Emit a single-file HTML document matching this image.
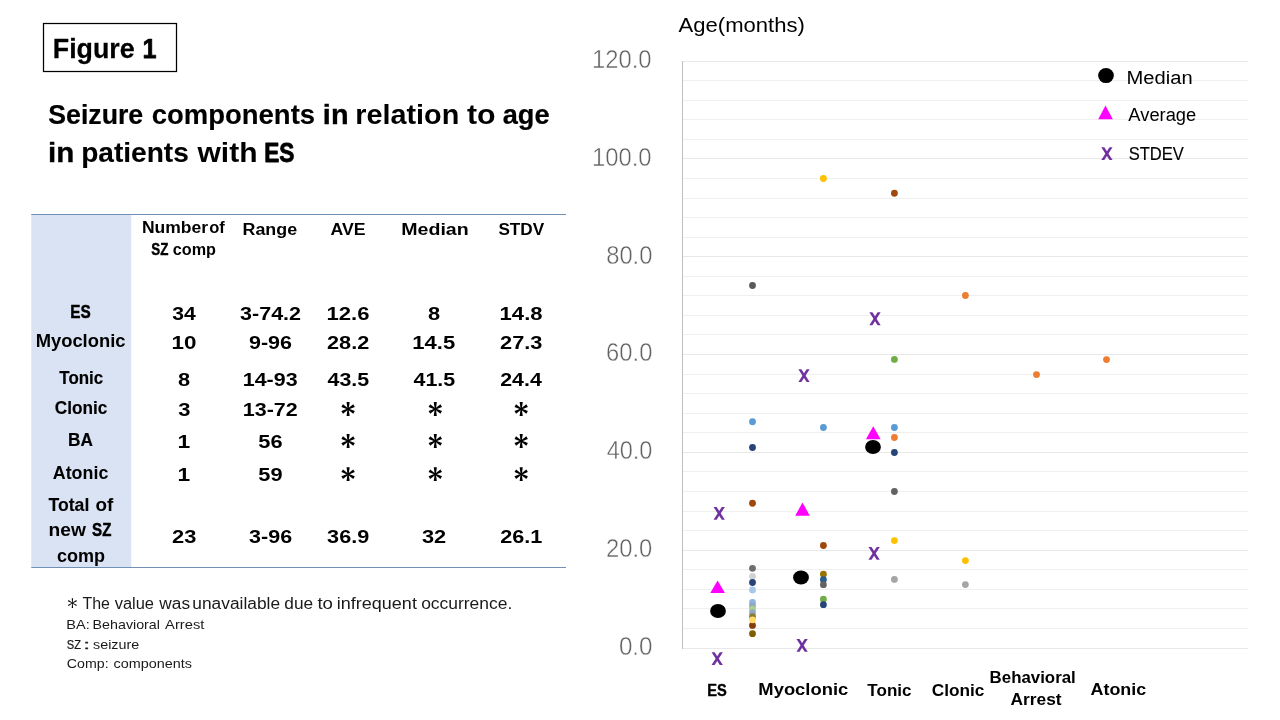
<!DOCTYPE html>
<html><head><meta charset="utf-8"><title>Figure 1</title>
<style>
html,body{margin:0;padding:0;background:#fff;}
body{width:1280px;height:720px;overflow:hidden;font-family:"Liberation Sans",sans-serif;}
svg{display:block;will-change:transform;font-family:"Liberation Sans",sans-serif;}
text{white-space:pre;}
</style></head><body>
<svg width="1280" height="720" viewBox="0 0 1280 720">
<rect x="0" y="0" width="1280" height="720" fill="#ffffff"/>
<rect x="43.5" y="23.5" width="133" height="48" fill="#fff" stroke="#000" stroke-width="1.25"/>
<text x="52.80" y="57.70" textLength="81.80" font-size="28" font-weight="bold" fill="#000" lengthAdjust="spacingAndGlyphs" stroke="#000" stroke-width="0.26" stroke-linejoin="round">Figure</text>
<text x="142.62" y="57.70" textLength="14.03" font-size="28" font-weight="bold" fill="#000" lengthAdjust="spacingAndGlyphs" stroke="#000" stroke-width="0.75" stroke-linejoin="round">1</text>
<text x="48.28" y="123.70" textLength="94.89" font-size="28" font-weight="bold" fill="#000" lengthAdjust="spacingAndGlyphs" stroke="#000" stroke-width="0.23" stroke-linejoin="round">Seizure</text>
<text x="151.68" y="123.70" textLength="163.42" font-size="28" font-weight="bold" fill="#000" lengthAdjust="spacingAndGlyphs" stroke="#000" stroke-width="0.12" stroke-linejoin="round">components</text>
<text x="322.86" y="123.70" textLength="25.67" font-size="28" font-weight="bold" fill="#000" lengthAdjust="spacingAndGlyphs" stroke="#000" stroke-width="0.35" stroke-linejoin="round">in</text>
<text x="355.34" y="123.70" textLength="103.88" font-size="28" font-weight="bold" fill="#000" lengthAdjust="spacingAndGlyphs">relation</text>
<text x="467.02" y="123.70" textLength="28.62" font-size="28" font-weight="bold" fill="#000" lengthAdjust="spacingAndGlyphs">to</text>
<text x="502.74" y="123.70" textLength="46.77" font-size="28" font-weight="bold" fill="#000" lengthAdjust="spacingAndGlyphs" stroke="#000" stroke-width="0.23" stroke-linejoin="round">age</text>
<text x="47.99" y="162.30" textLength="26.26" font-size="28" font-weight="bold" fill="#000" lengthAdjust="spacingAndGlyphs" stroke="#000" stroke-width="0.34" stroke-linejoin="round">in</text>
<text x="81.15" y="162.30" textLength="107.67" font-size="28" font-weight="bold" fill="#000" lengthAdjust="spacingAndGlyphs" stroke="#000" stroke-width="0.09" stroke-linejoin="round">patients</text>
<text x="197.47" y="162.30" textLength="60.00" font-size="28" font-weight="bold" fill="#000" lengthAdjust="spacingAndGlyphs">with</text>
<text x="264.16" y="162.30" textLength="30.21" font-size="28" font-weight="bold" fill="#000" lengthAdjust="spacingAndGlyphs" stroke="#000" stroke-width="0.87" stroke-linejoin="round">ES</text>
<rect x="31.25" y="214.5" width="100" height="353" fill="#DAE3F3"/>
<line x1="31.25" y1="214.5" x2="566" y2="214.5" stroke="#7090B6" stroke-width="1"/>
<line x1="31.25" y1="567.5" x2="566" y2="567.5" stroke="#7090B6" stroke-width="1"/>
<text x="141.96" y="232.60" textLength="66.15" font-size="16.0" font-weight="bold" fill="#000" lengthAdjust="spacingAndGlyphs">Number</text>
<text x="209.22" y="232.60" textLength="15.63" font-size="16.0" font-weight="bold" fill="#000" lengthAdjust="spacingAndGlyphs">of</text>
<text x="151.21" y="254.50" textLength="17.11" font-size="16.0" font-weight="bold" fill="#000" lengthAdjust="spacingAndGlyphs" stroke="#000" stroke-width="0.40" stroke-linejoin="round">SZ</text>
<text x="172.75" y="254.50" textLength="43.17" font-size="16.0" font-weight="bold" fill="#000" lengthAdjust="spacingAndGlyphs">comp</text>
<text x="242.54" y="234.70" textLength="54.62" font-size="16.8" font-weight="bold" fill="#000" lengthAdjust="spacingAndGlyphs">Range</text>
<text x="330.54" y="234.50" textLength="35.06" font-size="16.8" font-weight="bold" fill="#000" lengthAdjust="spacingAndGlyphs">AVE</text>
<text x="401.26" y="234.50" textLength="67.49" font-size="16.8" font-weight="bold" fill="#000" lengthAdjust="spacingAndGlyphs">Median</text>
<text x="498.41" y="234.50" textLength="45.76" font-size="16.8" font-weight="bold" fill="#000" lengthAdjust="spacingAndGlyphs">STDV</text>
<text x="70.36" y="317.60" textLength="20.45" font-size="17.8" font-weight="bold" fill="#000" lengthAdjust="spacingAndGlyphs" stroke="#000" stroke-width="0.44" stroke-linejoin="round">ES</text>
<text x="35.66" y="346.80" textLength="89.81" font-size="17.8" font-weight="bold" fill="#000" lengthAdjust="spacingAndGlyphs">Myoclonic</text>
<text x="59.30" y="383.70" textLength="43.90" font-size="17.8" font-weight="bold" fill="#000" lengthAdjust="spacingAndGlyphs" stroke="#000" stroke-width="0.16" stroke-linejoin="round">Tonic</text>
<text x="54.80" y="413.70" textLength="52.61" font-size="17.8" font-weight="bold" fill="#000" lengthAdjust="spacingAndGlyphs" stroke="#000" stroke-width="0.14" stroke-linejoin="round">Clonic</text>
<text x="68.10" y="445.80" textLength="24.87" font-size="17.8" font-weight="bold" fill="#000" lengthAdjust="spacingAndGlyphs" stroke="#000" stroke-width="0.21" stroke-linejoin="round">BA</text>
<text x="52.79" y="478.90" textLength="55.55" font-size="17.8" font-weight="bold" fill="#000" lengthAdjust="spacingAndGlyphs">Atonic</text>
<text x="48.53" y="510.70" textLength="40.82" font-size="17.8" font-weight="bold" fill="#000" lengthAdjust="spacingAndGlyphs" stroke="#000" stroke-width="0.10" stroke-linejoin="round">Total</text>
<text x="95.51" y="510.70" textLength="17.82" font-size="17.8" font-weight="bold" fill="#000" lengthAdjust="spacingAndGlyphs">of</text>
<text x="48.53" y="536.40" textLength="37.35" font-size="17.8" font-weight="bold" fill="#000" lengthAdjust="spacingAndGlyphs">new</text>
<text x="92.09" y="536.40" textLength="19.28" font-size="17.8" font-weight="bold" fill="#000" lengthAdjust="spacingAndGlyphs" stroke="#000" stroke-width="0.46" stroke-linejoin="round">SZ</text>
<text x="57.03" y="561.50" textLength="48.08" font-size="17.8" font-weight="bold" fill="#000" lengthAdjust="spacingAndGlyphs">comp</text>
<text x="172.17" y="320.40" textLength="23.53" font-size="19.1" font-weight="bold" fill="#000" lengthAdjust="spacingAndGlyphs">34</text>
<text x="240.05" y="320.40" textLength="60.99" font-size="19.1" font-weight="bold" fill="#000" lengthAdjust="spacingAndGlyphs">3-74.2</text>
<text x="326.49" y="320.40" textLength="42.98" font-size="19.1" font-weight="bold" fill="#000" lengthAdjust="spacingAndGlyphs">12.6</text>
<text x="427.99" y="320.40" textLength="12.13" font-size="19.1" font-weight="bold" fill="#000" lengthAdjust="spacingAndGlyphs">8</text>
<text x="499.61" y="320.40" textLength="42.92" font-size="19.1" font-weight="bold" fill="#000" lengthAdjust="spacingAndGlyphs">14.8</text>
<text x="171.43" y="349.30" textLength="24.95" font-size="19.1" font-weight="bold" fill="#000" lengthAdjust="spacingAndGlyphs">10</text>
<text x="248.96" y="349.30" textLength="43.07" font-size="19.1" font-weight="bold" fill="#000" lengthAdjust="spacingAndGlyphs">9-96</text>
<text x="327.02" y="349.30" textLength="42.26" font-size="19.1" font-weight="bold" fill="#000" lengthAdjust="spacingAndGlyphs">28.2</text>
<text x="412.30" y="349.30" textLength="42.84" font-size="19.1" font-weight="bold" fill="#000" lengthAdjust="spacingAndGlyphs">14.5</text>
<text x="500.13" y="349.30" textLength="42.35" font-size="19.1" font-weight="bold" fill="#000" lengthAdjust="spacingAndGlyphs">27.3</text>
<text x="178.14" y="386.30" textLength="12.13" font-size="19.1" font-weight="bold" fill="#000" lengthAdjust="spacingAndGlyphs">8</text>
<text x="242.78" y="386.30" textLength="54.81" font-size="19.1" font-weight="bold" fill="#000" lengthAdjust="spacingAndGlyphs">14-93</text>
<text x="327.54" y="386.30" textLength="41.65" font-size="19.1" font-weight="bold" fill="#000" lengthAdjust="spacingAndGlyphs">43.5</text>
<text x="413.54" y="386.30" textLength="41.65" font-size="19.1" font-weight="bold" fill="#000" lengthAdjust="spacingAndGlyphs">41.5</text>
<text x="500.22" y="386.30" textLength="41.58" font-size="19.1" font-weight="bold" fill="#000" lengthAdjust="spacingAndGlyphs">24.4</text>
<text x="178.26" y="416.10" textLength="12.22" font-size="19.1" font-weight="bold" fill="#000" lengthAdjust="spacingAndGlyphs">3</text>
<text x="242.79" y="416.10" textLength="54.96" font-size="19.1" font-weight="bold" fill="#000" lengthAdjust="spacingAndGlyphs">13-72</text>
<polygon points="348.70,409.00 349.65,402.05 346.55,402.05 347.50,409.00" fill="#000"/>
<polygon points="348.40,409.52 354.80,406.92 353.25,404.23 347.80,408.48" fill="#000"/>
<polygon points="347.80,409.52 353.25,413.77 354.80,411.08 348.40,408.48" fill="#000"/>
<polygon points="347.50,409.00 346.55,415.95 349.65,415.95 348.70,409.00" fill="#000"/>
<polygon points="347.80,408.48 341.40,411.08 342.95,413.77 348.40,409.52" fill="#000"/>
<polygon points="348.40,408.48 342.95,404.23 341.40,406.92 347.80,409.52" fill="#000"/>
<circle cx="348.1" cy="409.0" r="0.96" fill="#000"/>
<polygon points="435.90,409.00 436.85,402.05 433.75,402.05 434.70,409.00" fill="#000"/>
<polygon points="435.60,409.52 442.00,406.92 440.45,404.23 435.00,408.48" fill="#000"/>
<polygon points="435.00,409.52 440.45,413.77 442.00,411.08 435.60,408.48" fill="#000"/>
<polygon points="434.70,409.00 433.75,415.95 436.85,415.95 435.90,409.00" fill="#000"/>
<polygon points="435.00,408.48 428.60,411.08 430.15,413.77 435.60,409.52" fill="#000"/>
<polygon points="435.60,408.48 430.15,404.23 428.60,406.92 435.00,409.52" fill="#000"/>
<circle cx="435.3" cy="409.0" r="0.96" fill="#000"/>
<polygon points="521.80,409.00 522.75,402.05 519.65,402.05 520.60,409.00" fill="#000"/>
<polygon points="521.50,409.52 527.90,406.92 526.35,404.23 520.90,408.48" fill="#000"/>
<polygon points="520.90,409.52 526.35,413.77 527.90,411.08 521.50,408.48" fill="#000"/>
<polygon points="520.60,409.00 519.65,415.95 522.75,415.95 521.80,409.00" fill="#000"/>
<polygon points="520.90,408.48 514.50,411.08 516.05,413.77 521.50,409.52" fill="#000"/>
<polygon points="521.50,408.48 516.05,404.23 514.50,406.92 520.90,409.52" fill="#000"/>
<circle cx="521.2" cy="409.0" r="0.96" fill="#000"/>
<text x="177.53" y="448.40" textLength="12.68" font-size="19.1" font-weight="bold" fill="#000" lengthAdjust="spacingAndGlyphs">1</text>
<text x="258.36" y="448.40" textLength="24.26" font-size="19.1" font-weight="bold" fill="#000" lengthAdjust="spacingAndGlyphs">56</text>
<polygon points="348.70,441.00 349.65,434.05 346.55,434.05 347.50,441.00" fill="#000"/>
<polygon points="348.40,441.52 354.80,438.92 353.25,436.23 347.80,440.48" fill="#000"/>
<polygon points="347.80,441.52 353.25,445.77 354.80,443.08 348.40,440.48" fill="#000"/>
<polygon points="347.50,441.00 346.55,447.95 349.65,447.95 348.70,441.00" fill="#000"/>
<polygon points="347.80,440.48 341.40,443.08 342.95,445.77 348.40,441.52" fill="#000"/>
<polygon points="348.40,440.48 342.95,436.23 341.40,438.92 347.80,441.52" fill="#000"/>
<circle cx="348.1" cy="441.0" r="0.96" fill="#000"/>
<polygon points="435.90,441.00 436.85,434.05 433.75,434.05 434.70,441.00" fill="#000"/>
<polygon points="435.60,441.52 442.00,438.92 440.45,436.23 435.00,440.48" fill="#000"/>
<polygon points="435.00,441.52 440.45,445.77 442.00,443.08 435.60,440.48" fill="#000"/>
<polygon points="434.70,441.00 433.75,447.95 436.85,447.95 435.90,441.00" fill="#000"/>
<polygon points="435.00,440.48 428.60,443.08 430.15,445.77 435.60,441.52" fill="#000"/>
<polygon points="435.60,440.48 430.15,436.23 428.60,438.92 435.00,441.52" fill="#000"/>
<circle cx="435.3" cy="441.0" r="0.96" fill="#000"/>
<polygon points="521.80,441.00 522.75,434.05 519.65,434.05 520.60,441.00" fill="#000"/>
<polygon points="521.50,441.52 527.90,438.92 526.35,436.23 520.90,440.48" fill="#000"/>
<polygon points="520.90,441.52 526.35,445.77 527.90,443.08 521.50,440.48" fill="#000"/>
<polygon points="520.60,441.00 519.65,447.95 522.75,447.95 521.80,441.00" fill="#000"/>
<polygon points="520.90,440.48 514.50,443.08 516.05,445.77 521.50,441.52" fill="#000"/>
<polygon points="521.50,440.48 516.05,436.23 514.50,438.92 520.90,441.52" fill="#000"/>
<circle cx="521.2" cy="441.0" r="0.96" fill="#000"/>
<text x="177.53" y="481.25" textLength="12.68" font-size="19.1" font-weight="bold" fill="#000" lengthAdjust="spacingAndGlyphs">1</text>
<text x="258.36" y="481.25" textLength="24.26" font-size="19.1" font-weight="bold" fill="#000" lengthAdjust="spacingAndGlyphs">59</text>
<polygon points="348.70,474.15 349.65,467.20 346.55,467.20 347.50,474.15" fill="#000"/>
<polygon points="348.40,474.67 354.80,472.07 353.25,469.38 347.80,473.63" fill="#000"/>
<polygon points="347.80,474.67 353.25,478.92 354.80,476.23 348.40,473.63" fill="#000"/>
<polygon points="347.50,474.15 346.55,481.10 349.65,481.10 348.70,474.15" fill="#000"/>
<polygon points="347.80,473.63 341.40,476.23 342.95,478.92 348.40,474.67" fill="#000"/>
<polygon points="348.40,473.63 342.95,469.38 341.40,472.07 347.80,474.67" fill="#000"/>
<circle cx="348.1" cy="474.15" r="0.96" fill="#000"/>
<polygon points="435.90,474.15 436.85,467.20 433.75,467.20 434.70,474.15" fill="#000"/>
<polygon points="435.60,474.67 442.00,472.07 440.45,469.38 435.00,473.63" fill="#000"/>
<polygon points="435.00,474.67 440.45,478.92 442.00,476.23 435.60,473.63" fill="#000"/>
<polygon points="434.70,474.15 433.75,481.10 436.85,481.10 435.90,474.15" fill="#000"/>
<polygon points="435.00,473.63 428.60,476.23 430.15,478.92 435.60,474.67" fill="#000"/>
<polygon points="435.60,473.63 430.15,469.38 428.60,472.07 435.00,474.67" fill="#000"/>
<circle cx="435.3" cy="474.15" r="0.96" fill="#000"/>
<polygon points="521.80,474.15 522.75,467.20 519.65,467.20 520.60,474.15" fill="#000"/>
<polygon points="521.50,474.67 527.90,472.07 526.35,469.38 520.90,473.63" fill="#000"/>
<polygon points="520.90,474.67 526.35,478.92 527.90,476.23 521.50,473.63" fill="#000"/>
<polygon points="520.60,474.15 519.65,481.10 522.75,481.10 521.80,474.15" fill="#000"/>
<polygon points="520.90,473.63 514.50,476.23 516.05,478.92 521.50,474.67" fill="#000"/>
<polygon points="521.50,473.63 516.05,469.38 514.50,472.07 520.90,474.67" fill="#000"/>
<circle cx="521.2" cy="474.15" r="0.96" fill="#000"/>
<text x="172.07" y="542.50" textLength="24.32" font-size="19.1" font-weight="bold" fill="#000" lengthAdjust="spacingAndGlyphs">23</text>
<text x="249.12" y="542.50" textLength="43.07" font-size="19.1" font-weight="bold" fill="#000" lengthAdjust="spacingAndGlyphs">3-96</text>
<text x="327.08" y="542.50" textLength="42.19" font-size="19.1" font-weight="bold" fill="#000" lengthAdjust="spacingAndGlyphs">36.9</text>
<text x="421.94" y="542.50" textLength="24.26" font-size="19.1" font-weight="bold" fill="#000" lengthAdjust="spacingAndGlyphs">32</text>
<text x="500.16" y="542.50" textLength="42.12" font-size="19.1" font-weight="bold" fill="#000" lengthAdjust="spacingAndGlyphs">26.1</text>
<polygon points="72.70,603.10 73.05,598.20 71.75,598.20 72.10,603.10" fill="#000"/>
<polygon points="72.55,603.36 76.90,601.25 76.25,600.12 72.25,602.84" fill="#000"/>
<polygon points="72.25,603.36 76.25,606.08 76.90,604.95 72.55,602.84" fill="#000"/>
<polygon points="72.10,603.10 71.75,608.00 73.05,608.00 72.70,603.10" fill="#000"/>
<polygon points="72.25,602.84 67.90,604.95 68.55,606.08 72.55,603.36" fill="#000"/>
<polygon points="72.55,602.84 68.55,600.12 67.90,601.25 72.25,603.36" fill="#000"/>
<circle cx="72.4" cy="603.1" r="0.48" fill="#000"/>
<text x="82.41" y="608.75" textLength="27.49" font-size="15.8" font-weight="normal" fill="#1a1a1a" lengthAdjust="spacingAndGlyphs">The</text>
<text x="114.65" y="608.75" textLength="39.38" font-size="15.8" font-weight="normal" fill="#1a1a1a" lengthAdjust="spacingAndGlyphs">value</text>
<text x="159.35" y="608.75" textLength="30.74" font-size="15.8" font-weight="normal" fill="#1a1a1a" lengthAdjust="spacingAndGlyphs">was</text>
<text x="192.31" y="608.75" textLength="87.75" font-size="15.8" font-weight="normal" fill="#1a1a1a" lengthAdjust="spacingAndGlyphs">unavailable</text>
<text x="284.34" y="608.75" textLength="28.86" font-size="15.8" font-weight="normal" fill="#1a1a1a" lengthAdjust="spacingAndGlyphs">due</text>
<text x="317.44" y="608.75" textLength="15.53" font-size="15.8" font-weight="normal" fill="#1a1a1a" lengthAdjust="spacingAndGlyphs">to</text>
<text x="336.74" y="608.75" textLength="80.17" font-size="15.8" font-weight="normal" fill="#1a1a1a" lengthAdjust="spacingAndGlyphs">infrequent</text>
<text x="421.18" y="608.75" textLength="91.10" font-size="15.8" font-weight="normal" fill="#1a1a1a" lengthAdjust="spacingAndGlyphs">occurrence.</text>
<text x="66.32" y="628.50" textLength="23.43" font-size="13.2" font-weight="normal" fill="#1a1a1a" lengthAdjust="spacingAndGlyphs">BA:</text>
<text x="92.61" y="628.50" textLength="67.34" font-size="13.2" font-weight="normal" fill="#1a1a1a" lengthAdjust="spacingAndGlyphs">Behavioral</text>
<text x="165.09" y="628.50" textLength="39.25" font-size="13.2" font-weight="normal" fill="#1a1a1a" lengthAdjust="spacingAndGlyphs">Arrest</text>
<text x="66.75" y="648.50" textLength="14.15" font-size="13.2" font-weight="normal" fill="#1a1a1a" lengthAdjust="spacingAndGlyphs" stroke="#1a1a1a" stroke-width="0.24" stroke-linejoin="round">SZ</text>
<text x="83.25" y="648.50" textLength="6.90" font-size="13.2" font-weight="normal" fill="#1a1a1a" lengthAdjust="spacingAndGlyphs" stroke="#1a1a1a" stroke-width="0.26" stroke-linejoin="round">:</text>
<text x="93.07" y="648.50" textLength="46.08" font-size="13.2" font-weight="normal" fill="#1a1a1a" lengthAdjust="spacingAndGlyphs">seizure</text>
<text x="66.85" y="667.90" textLength="41.76" font-size="13.2" font-weight="normal" fill="#1a1a1a" lengthAdjust="spacingAndGlyphs">Comp:</text>
<text x="113.44" y="667.90" textLength="78.47" font-size="13.2" font-weight="normal" fill="#1a1a1a" lengthAdjust="spacingAndGlyphs">components</text>
<line x1="683" y1="61.5" x2="1248" y2="61.5" stroke="#E8E8E8" stroke-width="1"/>
<line x1="683" y1="80.5" x2="1248" y2="80.5" stroke="#EFEFEF" stroke-width="1"/>
<line x1="683" y1="100.5" x2="1248" y2="100.5" stroke="#EFEFEF" stroke-width="1"/>
<line x1="683" y1="119.5" x2="1248" y2="119.5" stroke="#EFEFEF" stroke-width="1"/>
<line x1="683" y1="139.5" x2="1248" y2="139.5" stroke="#EFEFEF" stroke-width="1"/>
<line x1="683" y1="158.5" x2="1248" y2="158.5" stroke="#E8E8E8" stroke-width="1"/>
<line x1="683" y1="178.5" x2="1248" y2="178.5" stroke="#EFEFEF" stroke-width="1"/>
<line x1="683" y1="198.5" x2="1248" y2="198.5" stroke="#EFEFEF" stroke-width="1"/>
<line x1="683" y1="217.5" x2="1248" y2="217.5" stroke="#EFEFEF" stroke-width="1"/>
<line x1="683" y1="237.5" x2="1248" y2="237.5" stroke="#EFEFEF" stroke-width="1"/>
<line x1="683" y1="256.5" x2="1248" y2="256.5" stroke="#E8E8E8" stroke-width="1"/>
<line x1="683" y1="276.5" x2="1248" y2="276.5" stroke="#EFEFEF" stroke-width="1"/>
<line x1="683" y1="295.5" x2="1248" y2="295.5" stroke="#EFEFEF" stroke-width="1"/>
<line x1="683" y1="315.5" x2="1248" y2="315.5" stroke="#EFEFEF" stroke-width="1"/>
<line x1="683" y1="334.5" x2="1248" y2="334.5" stroke="#EFEFEF" stroke-width="1"/>
<line x1="683" y1="354.5" x2="1248" y2="354.5" stroke="#E8E8E8" stroke-width="1"/>
<line x1="683" y1="374.5" x2="1248" y2="374.5" stroke="#EFEFEF" stroke-width="1"/>
<line x1="683" y1="393.5" x2="1248" y2="393.5" stroke="#EFEFEF" stroke-width="1"/>
<line x1="683" y1="413.5" x2="1248" y2="413.5" stroke="#EFEFEF" stroke-width="1"/>
<line x1="683" y1="432.5" x2="1248" y2="432.5" stroke="#EFEFEF" stroke-width="1"/>
<line x1="683" y1="452.5" x2="1248" y2="452.5" stroke="#E8E8E8" stroke-width="1"/>
<line x1="683" y1="471.5" x2="1248" y2="471.5" stroke="#EFEFEF" stroke-width="1"/>
<line x1="683" y1="491.5" x2="1248" y2="491.5" stroke="#EFEFEF" stroke-width="1"/>
<line x1="683" y1="511.5" x2="1248" y2="511.5" stroke="#EFEFEF" stroke-width="1"/>
<line x1="683" y1="530.5" x2="1248" y2="530.5" stroke="#EFEFEF" stroke-width="1"/>
<line x1="683" y1="550.5" x2="1248" y2="550.5" stroke="#E8E8E8" stroke-width="1"/>
<line x1="683" y1="569.5" x2="1248" y2="569.5" stroke="#EFEFEF" stroke-width="1"/>
<line x1="683" y1="589.5" x2="1248" y2="589.5" stroke="#EFEFEF" stroke-width="1"/>
<line x1="683" y1="608.5" x2="1248" y2="608.5" stroke="#EFEFEF" stroke-width="1"/>
<line x1="683" y1="628.5" x2="1248" y2="628.5" stroke="#EFEFEF" stroke-width="1"/>
<line x1="683" y1="648.5" x2="1248" y2="648.5" stroke="#E8E8E8" stroke-width="1"/>
<line x1="682.5" y1="61" x2="682.5" y2="649" stroke="#BFBFBF" stroke-width="1"/>
<text x="618.90" y="654.90" textLength="33.63" font-size="25.6" font-weight="normal" fill="#626262" lengthAdjust="spacingAndGlyphs" stroke="#fff" stroke-width="0.45">0.0</text>
<text x="606.04" y="557.07" textLength="46.34" font-size="25.6" font-weight="normal" fill="#626262" lengthAdjust="spacingAndGlyphs" stroke="#fff" stroke-width="0.45">20.0</text>
<text x="606.65" y="459.25" textLength="45.83" font-size="25.6" font-weight="normal" fill="#626262" lengthAdjust="spacingAndGlyphs" stroke="#fff" stroke-width="0.45">40.0</text>
<text x="606.11" y="361.42" textLength="46.28" font-size="25.6" font-weight="normal" fill="#626262" lengthAdjust="spacingAndGlyphs" stroke="#fff" stroke-width="0.45">60.0</text>
<text x="606.20" y="263.60" textLength="46.23" font-size="25.6" font-weight="normal" fill="#626262" lengthAdjust="spacingAndGlyphs" stroke="#fff" stroke-width="0.45">80.0</text>
<text x="592.01" y="165.77" textLength="59.55" font-size="25.6" font-weight="normal" fill="#626262" lengthAdjust="spacingAndGlyphs" stroke="#fff" stroke-width="0.45">100.0</text>
<text x="592.01" y="67.94" textLength="59.55" font-size="25.6" font-weight="normal" fill="#626262" lengthAdjust="spacingAndGlyphs" stroke="#fff" stroke-width="0.45">120.0</text>
<text x="678.60" y="31.80" textLength="126.31" font-size="20.2" font-weight="normal" fill="#000" lengthAdjust="spacingAndGlyphs">Age(months)</text>
<circle cx="752.50" cy="285.50" r="3.4" fill="#5A5A5A"/>
<circle cx="752.50" cy="421.75" r="3.4" fill="#5B9BD5"/>
<circle cx="752.50" cy="447.50" r="3.4" fill="#264478"/>
<circle cx="752.50" cy="503.25" r="3.4" fill="#9E480E"/>
<circle cx="752.50" cy="568.30" r="3.4" fill="#6E6E6E"/>
<circle cx="752.50" cy="576.30" r="3.4" fill="#D0D3D3"/>
<circle cx="752.50" cy="582.50" r="3.4" fill="#264478"/>
<circle cx="752.50" cy="590.00" r="3.4" fill="#A5C8EC"/>
<circle cx="752.50" cy="602.50" r="3.4" fill="#8FB4E0"/>
<circle cx="752.50" cy="606.00" r="3.4" fill="#8FA9C4"/>
<circle cx="752.50" cy="609.20" r="3.4" fill="#A9D18E"/>
<circle cx="752.50" cy="613.00" r="3.4" fill="#8FA9C4"/>
<circle cx="752.50" cy="616.70" r="3.4" fill="#8C7B35"/>
<circle cx="752.50" cy="625.40" r="3.4" fill="#843C0C"/>
<circle cx="752.50" cy="619.80" r="3.4" fill="#FFD966"/>
<circle cx="752.50" cy="633.70" r="3.4" fill="#7F6000"/>
<circle cx="823.40" cy="178.50" r="3.4" fill="#FFC000"/>
<circle cx="823.40" cy="427.50" r="3.4" fill="#5B9BD5"/>
<circle cx="823.40" cy="545.50" r="3.4" fill="#9E480E"/>
<circle cx="823.40" cy="574.20" r="3.4" fill="#997300"/>
<circle cx="823.40" cy="579.70" r="3.4" fill="#255E91"/>
<circle cx="823.40" cy="584.70" r="3.4" fill="#636363"/>
<circle cx="823.40" cy="599.20" r="3.4" fill="#70AD47"/>
<circle cx="823.40" cy="604.70" r="3.4" fill="#264478"/>
<circle cx="894.40" cy="193.25" r="3.4" fill="#9E480E"/>
<circle cx="894.40" cy="359.40" r="3.4" fill="#70AD47"/>
<circle cx="894.40" cy="427.50" r="3.4" fill="#5B9BD5"/>
<circle cx="894.40" cy="437.50" r="3.4" fill="#ED7D31"/>
<circle cx="894.40" cy="452.50" r="3.4" fill="#264478"/>
<circle cx="894.40" cy="491.50" r="3.4" fill="#636363"/>
<circle cx="894.40" cy="540.60" r="3.4" fill="#FFC000"/>
<circle cx="894.40" cy="579.40" r="3.4" fill="#A5A5A5"/>
<circle cx="965.40" cy="295.50" r="3.4" fill="#ED7D31"/>
<circle cx="965.40" cy="560.60" r="3.4" fill="#FFC000"/>
<circle cx="965.40" cy="584.60" r="3.4" fill="#A5A5A5"/>
<circle cx="1036.50" cy="374.55" r="3.4" fill="#ED7D31"/>
<circle cx="1106.50" cy="359.60" r="3.4" fill="#ED7D31"/>
<ellipse cx="718" cy="611" rx="7.9" ry="6.9" fill="#000"/>
<ellipse cx="801" cy="577.5" rx="7.9" ry="6.9" fill="#000"/>
<ellipse cx="873" cy="447" rx="7.9" ry="6.9" fill="#000"/>
<polygon points="717.6,580.5 724.9,593 710.3000000000001,593" fill="#FF00FF"/>
<polygon points="802.5,502.5 809.8,515.75 795.2,515.75" fill="#FF00FF"/>
<polygon points="873.25,426.25 880.55,439.25 865.95,439.25" fill="#FF00FF"/>
<polygon points="711.55,652.30 714.60,652.30 722.85,665.10 719.80,665.10" fill="#7030A0"/>
<polygon points="722.85,652.30 719.80,652.30 711.55,665.10 714.60,665.10" fill="#7030A0"/>
<polygon points="713.55,507.00 716.60,507.00 724.85,519.80 721.80,519.80" fill="#7030A0"/>
<polygon points="724.85,507.00 721.80,507.00 713.55,519.80 716.60,519.80" fill="#7030A0"/>
<polygon points="796.45,639.00 799.50,639.00 807.75,651.80 804.70,651.80" fill="#7030A0"/>
<polygon points="807.75,639.00 804.70,639.00 796.45,651.80 799.50,651.80" fill="#7030A0"/>
<polygon points="798.35,369.30 801.40,369.30 809.65,382.10 806.60,382.10" fill="#7030A0"/>
<polygon points="809.65,369.30 806.60,369.30 798.35,382.10 801.40,382.10" fill="#7030A0"/>
<polygon points="868.45,547.00 871.50,547.00 879.75,559.80 876.70,559.80" fill="#7030A0"/>
<polygon points="879.75,547.00 876.70,547.00 868.45,559.80 871.50,559.80" fill="#7030A0"/>
<polygon points="869.35,312.35 872.40,312.35 880.65,325.15 877.60,325.15" fill="#7030A0"/>
<polygon points="880.65,312.35 877.60,312.35 869.35,325.15 872.40,325.15" fill="#7030A0"/>
<ellipse cx="1106" cy="75.6" rx="7.85" ry="7.5" fill="#000"/>
<polygon points="1105.5,105.5 1112.8,119.3 1098.2,119.3" fill="#FF00FF"/>
<polygon points="1101.25,147.20 1104.30,147.20 1112.55,160.00 1109.50,160.00" fill="#7030A0"/>
<polygon points="1112.55,147.20 1109.50,147.20 1101.25,160.00 1104.30,160.00" fill="#7030A0"/>
<text x="1126.57" y="83.90" textLength="66.09" font-size="18" font-weight="normal" fill="#000" lengthAdjust="spacingAndGlyphs">Median</text>
<text x="1128.34" y="121.00" textLength="67.92" font-size="18" font-weight="normal" fill="#000" lengthAdjust="spacingAndGlyphs">Average</text>
<text x="1128.74" y="160.00" textLength="55.16" font-size="18" font-weight="normal" fill="#000" lengthAdjust="spacingAndGlyphs" stroke="#000" stroke-width="0.15" stroke-linejoin="round">STDEV</text>
<text x="707.15" y="696.25" textLength="19.54" font-size="16.4" font-weight="bold" fill="#000" lengthAdjust="spacingAndGlyphs" stroke="#000" stroke-width="0.36" stroke-linejoin="round">ES</text>
<text x="758.37" y="695.00" textLength="89.87" font-size="16.4" font-weight="bold" fill="#000" lengthAdjust="spacingAndGlyphs">Myoclonic</text>
<text x="867.36" y="696.25" textLength="44.15" font-size="16.4" font-weight="bold" fill="#000" lengthAdjust="spacingAndGlyphs">Tonic</text>
<text x="931.73" y="695.50" textLength="52.66" font-size="16.4" font-weight="bold" fill="#000" lengthAdjust="spacingAndGlyphs">Clonic</text>
<text x="989.62" y="682.50" textLength="86.15" font-size="15.7" font-weight="bold" fill="#000" lengthAdjust="spacingAndGlyphs">Behavioral</text>
<text x="1010.64" y="705.00" textLength="50.99" font-size="15.7" font-weight="bold" fill="#000" lengthAdjust="spacingAndGlyphs">Arrest</text>
<text x="1090.57" y="694.50" textLength="55.63" font-size="16.4" font-weight="bold" fill="#000" lengthAdjust="spacingAndGlyphs">Atonic</text>
</svg>
</body></html>
